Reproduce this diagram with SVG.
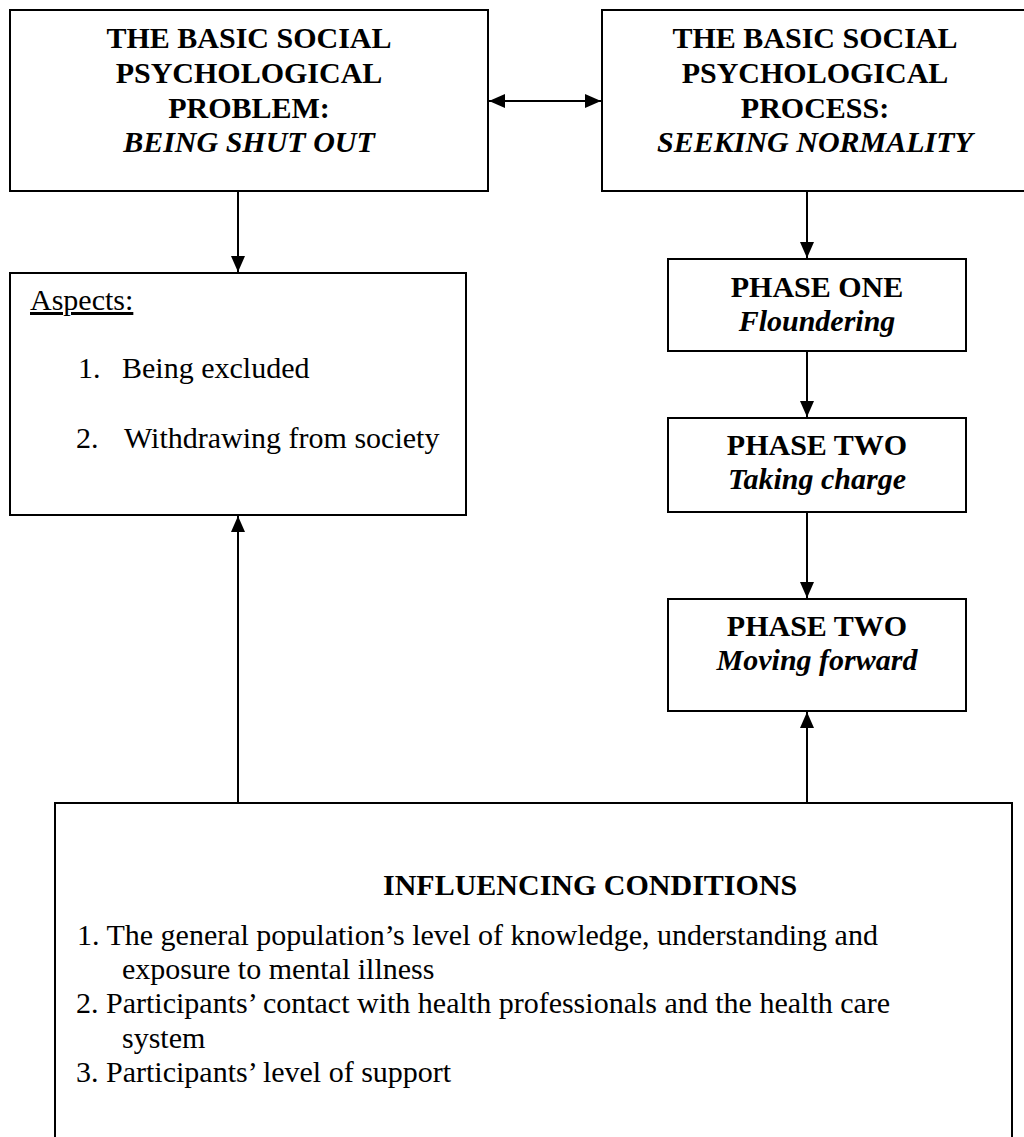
<svg xmlns="http://www.w3.org/2000/svg" width="1024" height="1137" viewBox="0 0 1024 1137">
<style>
.box{fill:#fff;stroke:#000;stroke-width:2}
.t{font-family:"Liberation Serif","Times New Roman",serif;font-size:30px;fill:#000}
.b{font-weight:bold}
.i{font-style:italic}
.c{text-anchor:middle}
.con{stroke:#000;stroke-width:2;fill:none}
</style>
<defs>
<marker id="ah" markerUnits="userSpaceOnUse" markerWidth="16" markerHeight="14" refX="16" refY="7" orient="auto-start-reverse">
<path d="M0,0 L16,7 L0,14 z" fill="#000"/>
</marker>
</defs>
<rect x="0" y="0" width="1024" height="1137" fill="#fff"/>
<g id="problem">
<rect class="box" x="10" y="10" width="478" height="181"/>
<text class="t b c" x="249" y="48">THE BASIC SOCIAL</text>
<text class="t b c" x="249" y="83">PSYCHOLOGICAL</text>
<text class="t b c" x="249" y="118">PROBLEM:</text>
<text class="t b i c" x="249" y="152">BEING SHUT OUT</text>
</g>
<g id="process">
<rect class="box" x="602" y="10" width="430" height="181"/>
<text class="t b c" x="815" y="48">THE BASIC SOCIAL</text>
<text class="t b c" x="815" y="83">PSYCHOLOGICAL</text>
<text class="t b c" x="815" y="118">PROCESS:</text>
<text class="t b i c" x="815" y="152">SEEKING NORMALITY</text>
</g>
<g id="aspects">
<rect class="box" x="10" y="273" width="456" height="242"/>
<text class="t" x="30" y="310" text-decoration="underline">Aspects:</text>
<text class="t" x="78" y="378">1.</text>
<text class="t" x="122" y="378">Being excluded</text>
<text class="t" x="76" y="448">2.</text>
<text class="t" x="124" y="448">Withdrawing from society</text>
</g>
<g id="phase1">
<rect class="box" x="668" y="259" width="298" height="92"/>
<text class="t b c" x="817" y="297">PHASE ONE</text>
<text class="t b i c" x="817" y="331">Floundering</text>
</g>
<g id="phase2">
<rect class="box" x="668" y="418" width="298" height="94"/>
<text class="t b c" x="817" y="455">PHASE TWO</text>
<text class="t b i c" x="817" y="489">Taking charge</text>
</g>
<g id="phase3">
<rect class="box" x="668" y="599" width="298" height="112"/>
<text class="t b c" x="817" y="636">PHASE TWO</text>
<text class="t b i c" x="817" y="670">Moving forward</text>
</g>
<g id="conditions">
<rect class="box" x="55" y="803" width="957" height="345"/>
<text class="t b" x="383" y="895">INFLUENCING CONDITIONS</text>
<text class="t" x="77" y="945">1. The general population’s level of knowledge, understanding and</text>
<text class="t" x="122" y="979">exposure to mental illness</text>
<text class="t" x="76" y="1013">2. Participants’ contact with health professionals and the health care</text>
<text class="t" x="122" y="1048">system</text>
<text class="t" x="76" y="1082">3. Participants’ level of support</text>
</g>
<g id="connectors">
<line class="con" x1="489" y1="101" x2="601" y2="101" marker-start="url(#ah)" marker-end="url(#ah)"/>
<line class="con" x1="238" y1="191" x2="238" y2="272" marker-end="url(#ah)"/>
<line class="con" x1="807" y1="191" x2="807" y2="258" marker-end="url(#ah)"/>
<line class="con" x1="807" y1="351" x2="807" y2="417" marker-end="url(#ah)"/>
<line class="con" x1="807" y1="512" x2="807" y2="598" marker-end="url(#ah)"/>
<line class="con" x1="807" y1="803" x2="807" y2="712" marker-end="url(#ah)"/>
<line class="con" x1="238" y1="803" x2="238" y2="516" marker-end="url(#ah)"/>
</g>
</svg>
